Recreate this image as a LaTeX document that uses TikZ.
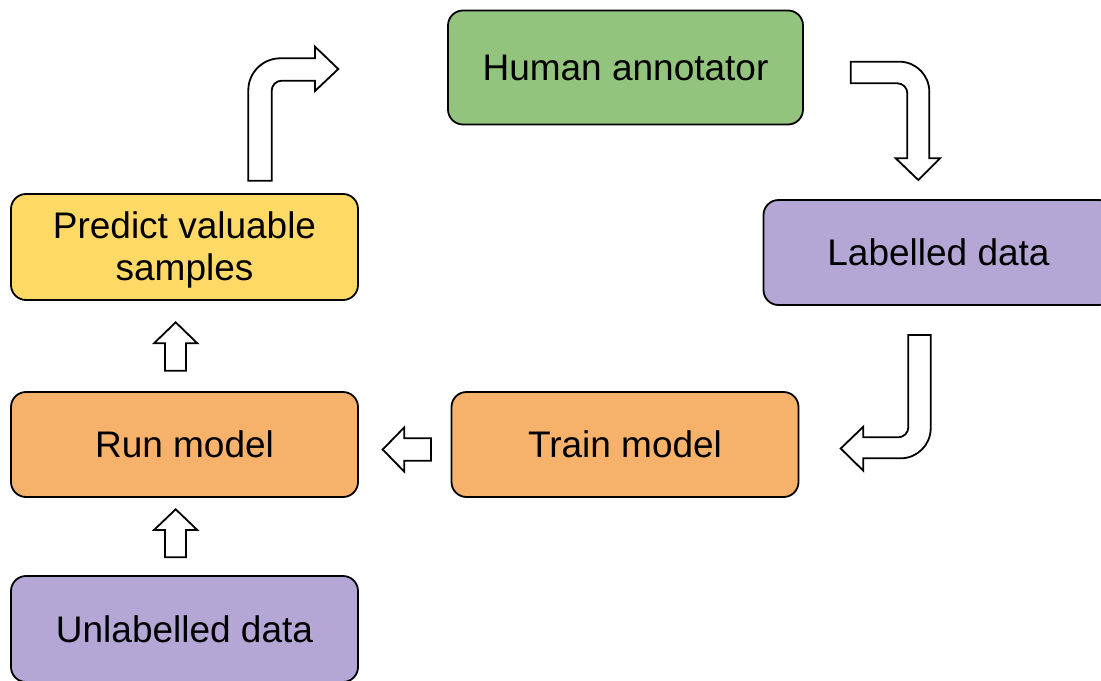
\documentclass[tikz,border=0pt]{standalone}
\usepackage{fontspec}
\setmainfont{Liberation Sans}
\definecolor{boxgreen}{HTML}{93C47D}
\definecolor{boxpurple}{HTML}{B4A7D6}
\definecolor{boxyellow}{HTML}{FFD966}
\definecolor{boxorange}{HTML}{F6B26B}
\newcommand{\lowerline}[1]{\raisebox{-1.3pt}[\height][\depth]{#1}}
\begin{document}
\begin{tikzpicture}[x=0.5pt,y=-0.5pt,
  stage/.style={draw=black, line width=0.9pt, rounded corners=7.5pt, align=center,
    minimum width=173.5pt, minimum height=52.5pt, inner sep=0pt,
    font=\fontsize{18.5}{21}\selectfont},
  hollow/.style={draw=black, fill=white, line width=0.9pt, line join=miter}]
\useasboundingbox (0,0) rectangle (1101,680);
% Stufen
\node[stage, fill=boxgreen, minimum width=177.5pt, minimum height=57pt] (annotator) at (625.5,67.5) {Human annotator};
\node[stage, fill=boxpurple, minimum width=175pt] (labelled) at (938.5,252.5) {Labelled data};
\node[stage, fill=boxorange] (train) at (625,444.5) {Train model};
\node[stage, fill=boxorange] (run) at (184.5,444.5) {Run model};
\node[stage, fill=boxyellow, minimum height=53pt] (predict) at (184.5,247) {\lowerline{Predict valuable}\\\lowerline{samples}};
\node[stage, fill=boxpurple, minimum height=53pt] (unlabelled) at (184.5,629) {Unlabelled data};
% gerade Pfeile
\draw[hollow] (165,557.3) -- (165,530) -- (154,530) -- (175.7,509.3) -- (197.3,530) -- (186,530) -- (186,557.3) -- cycle;
\draw[hollow] (165,370.7) -- (165,343.3) -- (154,343.3) -- (175.7,322.3) -- (197.3,343.3) -- (186,343.3) -- (186,370.7) -- cycle;
\draw[hollow] (431,438.3) -- (404.3,438.3) -- (404.3,427.3) -- (382.7,449.5) -- (404.3,471.7) -- (404.3,460.7) -- (431,460.7) -- cycle;
% gebogene Pfeile
\draw[hollow] (248.3,180.7) [rounded corners=16pt] -- (248.3,58.3) [sharp corners] -- (315,58.3) -- (315,46.7) -- (338.3,69) -- (315,91) -- (315,80.7) [rounded corners=5pt] -- (271.7,80.7) [sharp corners] -- (271.7,180.7) -- cycle;
\draw[hollow] (850.7,61.7) [rounded corners=15pt] -- (929.3,61.7) [sharp corners] -- (929.3,158.3) -- (940,158.3) -- (918.3,180) -- (895.7,158.3) -- (907.3,158.3) [rounded corners=5pt] -- (907.3,83.3) [sharp corners] -- (850.7,83.3) -- cycle;
\draw[hollow] (908.3,335) -- (930.7,335) [rounded corners=15pt] -- (930.7,458.3) [sharp corners] -- (863.3,458.3) -- (863.3,470.7) -- (840.7,448.5) -- (863.3,426.7) -- (863.3,437.3) [rounded corners=5pt] -- (908.3,437.3) [sharp corners] -- cycle;
\end{tikzpicture}
\end{document}
